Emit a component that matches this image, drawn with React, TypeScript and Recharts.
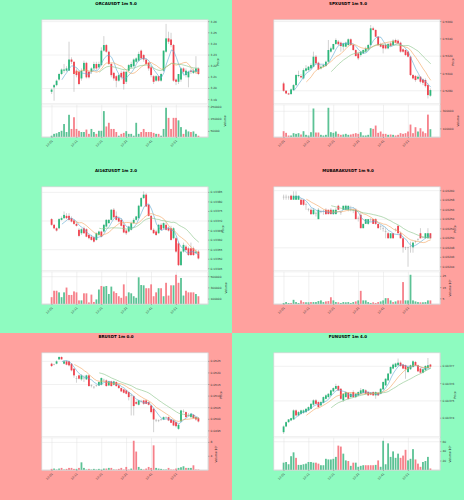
import React from 'react'
import { ComposedChart, Bar, Line, XAxis, YAxis, CartesianGrid } from 'recharts'

const timeLabels = ['12:01', '12:11', '12:21', '12:31', '12:41', '12:51']

// candles are [open, high, low, close]
const orcaCandles = [
  [3.197, 3.2, 3.195, 3.199], [3.201, 3.204, 3.189, 3.203], [3.203, 3.208, 3.202, 3.207], [3.208, 3.214, 3.207, 3.213],
  [3.213, 3.218, 3.212, 3.217], [3.216, 3.222, 3.214, 3.217], [3.216, 3.22, 3.215, 3.218], [3.216, 3.242, 3.216, 3.226],
  [3.226, 3.228, 3.222, 3.224], [3.224, 3.224, 3.197, 3.213], [3.216, 3.218, 3.21, 3.212], [3.215, 3.216, 3.203, 3.204],
  [3.209, 3.218, 3.207, 3.216], [3.216, 3.225, 3.215, 3.223], [3.223, 3.224, 3.209, 3.21], [3.215, 3.216, 3.209, 3.21],
  [3.215, 3.219, 3.213, 3.218], [3.218, 3.224, 3.216, 3.222], [3.222, 3.224, 3.216, 3.218], [3.219, 3.224, 3.218, 3.222],
  [3.221, 3.237, 3.22, 3.234], [3.234, 3.247, 3.233, 3.239], [3.239, 3.24, 3.232, 3.233], [3.233, 3.234, 3.221, 3.222],
  [3.222, 3.223, 3.21, 3.212], [3.214, 3.215, 3.207, 3.209], [3.211, 3.212, 3.201, 3.207], [3.207, 3.213, 3.206, 3.212],
  [3.214, 3.216, 3.208, 3.21], [3.215, 3.216, 3.199, 3.204], [3.206, 3.216, 3.204, 3.215], [3.216, 3.222, 3.215, 3.221],
  [3.219, 3.224, 3.218, 3.222], [3.22, 3.227, 3.219, 3.226], [3.224, 3.228, 3.223, 3.227], [3.225, 3.233, 3.224, 3.231],
  [3.234, 3.235, 3.226, 3.227], [3.23, 3.231, 3.224, 3.226], [3.226, 3.227, 3.221, 3.222], [3.223, 3.224, 3.216, 3.218],
  [3.219, 3.22, 3.21, 3.212], [3.211, 3.212, 3.204, 3.206], [3.207, 3.212, 3.206, 3.211], [3.211, 3.211, 3.206, 3.207],
  [3.207, 3.214, 3.206, 3.213], [3.216, 3.234, 3.215, 3.234], [3.233, 3.258, 3.232, 3.245], [3.245, 3.251, 3.24, 3.242],
  [3.244, 3.25, 3.237, 3.239], [3.239, 3.24, 3.206, 3.207], [3.208, 3.209, 3.203, 3.206], [3.206, 3.213, 3.204, 3.213],
  [3.208, 3.219, 3.206, 3.218], [3.218, 3.219, 3.213, 3.215], [3.212, 3.218, 3.21, 3.216], [3.21, 3.216, 3.201, 3.215],
  [3.216, 3.218, 3.213, 3.215], [3.214, 3.218, 3.213, 3.216], [3.215, 3.229, 3.213, 3.218], [3.218, 3.219, 3.212, 3.213],
]
const orcaVolume = [
  15000, 30000, 35000, 45000, 55000, 110000, 45000, 185000, 70000, 165000, 70000, 55000, 45000, 45000, 65000,
  30000, 70000, 45000, 30000, 55000, 55000, 215000, 90000, 120000, 70000, 70000, 45000, 15000, 30000, 38000,
  52000, 30000, 30000, 15000, 120000, 30000, 45000, 70000, 45000, 45000, 45000, 38000, 30000, 30000, 15000,
  70000, 242000, 160000, 70000, 160000, 160000, 140000, 85000, 30000, 65000, 50000, 45000, 50000, 30000, 15000,
]

const spxCandles = [
  [0.52885, 0.52904, 0.52789, 0.528], [0.528, 0.52808, 0.52762, 0.52769], [0.52769, 0.52777, 0.52754, 0.52758],
  [0.52762, 0.52827, 0.52754, 0.52816], [0.52808, 0.52877, 0.528, 0.52866], [0.52866, 0.52993, 0.52854, 0.52982],
  [0.5297, 0.53032, 0.52955, 0.52982], [0.5297, 0.52993, 0.52943, 0.52955], [0.52943, 0.53059, 0.52931, 0.53039],
  [0.53032, 0.53097, 0.5302, 0.53059], [0.53039, 0.53086, 0.53032, 0.53078], [0.53059, 0.53117, 0.53047, 0.53097],
  [0.53078, 0.53252, 0.5307, 0.53194], [0.53194, 0.53213, 0.53109, 0.53117], [0.53124, 0.53136, 0.53039, 0.53047],
  [0.53059, 0.53097, 0.53047, 0.53078], [0.53078, 0.53109, 0.5307, 0.53097], [0.53086, 0.53148, 0.53078, 0.53136],
  [0.53136, 0.53387, 0.53124, 0.53271], [0.53252, 0.5331, 0.5324, 0.5329], [0.53279, 0.53341, 0.53271, 0.53341],
  [0.53341, 0.53406, 0.53329, 0.53387], [0.53368, 0.53387, 0.53329, 0.53337], [0.53356, 0.53368, 0.53252, 0.53317],
  [0.5331, 0.53356, 0.53263, 0.53348], [0.5331, 0.53368, 0.53302, 0.53356], [0.53329, 0.53406, 0.53317, 0.53395],
  [0.53395, 0.53406, 0.53317, 0.53329], [0.53329, 0.53341, 0.53263, 0.53271], [0.53271, 0.53279, 0.53194, 0.53202],
  [0.53232, 0.53252, 0.53155, 0.53175], [0.53213, 0.53263, 0.53194, 0.53252], [0.53232, 0.53279, 0.53225, 0.53271],
  [0.53252, 0.5331, 0.5324, 0.5329], [0.53279, 0.53341, 0.53271, 0.53329], [0.53329, 0.5356, 0.53317, 0.53522],
  [0.53522, 0.53541, 0.53495, 0.53503], [0.53503, 0.5351, 0.53418, 0.53425], [0.53425, 0.53433, 0.53317, 0.53329],
  [0.53341, 0.53356, 0.53302, 0.5331], [0.53329, 0.53348, 0.53232, 0.5329], [0.53329, 0.53348, 0.53279, 0.5329],
  [0.5329, 0.53356, 0.53279, 0.53341], [0.53348, 0.53368, 0.5331, 0.53317], [0.53329, 0.53395, 0.53317, 0.53379],
  [0.53387, 0.53402, 0.53348, 0.53356], [0.53379, 0.53395, 0.53341, 0.53348], [0.53356, 0.53368, 0.5324, 0.53252],
  [0.53279, 0.5329, 0.5324, 0.53252], [0.53271, 0.53279, 0.53202, 0.53213], [0.53252, 0.53263, 0.53186, 0.53194],
  [0.53194, 0.53202, 0.5297, 0.52982], [0.52982, 0.52993, 0.52931, 0.52943], [0.5297, 0.52982, 0.52904, 0.52924],
  [0.52939, 0.52978, 0.52924, 0.52962], [0.52962, 0.5297, 0.52885, 0.52904], [0.52931, 0.52943, 0.52866, 0.52893],
  [0.52924, 0.52943, 0.52838, 0.52854], [0.52866, 0.52885, 0.52711, 0.5275], [0.52743, 0.52827, 0.52731, 0.52808],
]
const spxVolume = [
  73600, 54800, 24600, 24600, 51000, 43400, 51000, 35900, 73600, 32100, 24600, 62300, 332000, 58500, 58500,
  32100, 24600, 32100, 340000, 62300, 54800, 69900, 43400, 32100, 35900, 43400, 32100, 35900, 43400, 51000,
  43400, 62300, 24600, 24600, 32100, 107600, 100000, 137800, 54800, 69900, 43400, 43400, 32100, 35900, 32100,
  24600, 32100, 51000, 43400, 51000, 69900, 149100, 51000, 119000, 69900, 107600, 69900, 51000, 262300, 96300,
]

const ai16zCandles = [
  [0.13371, 0.133715, 0.133675, 0.13368], [0.13368, 0.133685, 0.133657, 0.133662], [0.133662, 0.133667, 0.133645, 0.13365],
  [0.133662, 0.133715, 0.133657, 0.13371], [0.133706, 0.133724, 0.133703, 0.133715], [0.133715, 0.13375, 0.13371, 0.133732],
  [0.133727, 0.133741, 0.13371, 0.133715], [0.133727, 0.133741, 0.133703, 0.133706], [0.133715, 0.133724, 0.133693, 0.133697],
  [0.133703, 0.13371, 0.13368, 0.133685], [0.133685, 0.133693, 0.133671, 0.133675], [0.133654, 0.133662, 0.133615, 0.133622],
  [0.133636, 0.133662, 0.133627, 0.133657], [0.133662, 0.133671, 0.133633, 0.133636], [0.133657, 0.133662, 0.133615, 0.133618],
  [0.133627, 0.133636, 0.133604, 0.13361], [0.133618, 0.133627, 0.133597, 0.133601], [0.133615, 0.133622, 0.133587, 0.133592],
  [0.133601, 0.13364, 0.133597, 0.133636], [0.133627, 0.13365, 0.133622, 0.133645], [0.133645, 0.13365, 0.133615, 0.133618],
  [0.133645, 0.133685, 0.13364, 0.13368], [0.133671, 0.13371, 0.133667, 0.133706], [0.133689, 0.13371, 0.133685, 0.133706],
  [0.133706, 0.133762, 0.133703, 0.133759], [0.133759, 0.133768, 0.133715, 0.13372], [0.133727, 0.13375, 0.133703, 0.133706],
  [0.133715, 0.133724, 0.133693, 0.133697], [0.133706, 0.133715, 0.133671, 0.133675], [0.13368, 0.133689, 0.133636, 0.13364],
  [0.13365, 0.133657, 0.133627, 0.133636], [0.133645, 0.133675, 0.13364, 0.133671], [0.133654, 0.133697, 0.13365, 0.133689],
  [0.133689, 0.133715, 0.133685, 0.133706], [0.133706, 0.133727, 0.133703, 0.133724], [0.133715, 0.133785, 0.13371, 0.13378],
  [0.133776, 0.133825, 0.133773, 0.13382], [0.13382, 0.133855, 0.133815, 0.133838], [0.133838, 0.133846, 0.133773, 0.133776],
  [0.133785, 0.13379, 0.133724, 0.133727], [0.133727, 0.133732, 0.13365, 0.133654], [0.133654, 0.133662, 0.133633, 0.133636],
  [0.133645, 0.133654, 0.133622, 0.133627], [0.133636, 0.133685, 0.133633, 0.13368], [0.13368, 0.133689, 0.13365, 0.133654],
  [0.133662, 0.133693, 0.133657, 0.133689], [0.13368, 0.133697, 0.13365, 0.133654], [0.133662, 0.133671, 0.133645, 0.13365],
  [0.133662, 0.133675, 0.133597, 0.133601], [0.13361, 0.133667, 0.133604, 0.133662], [0.13361, 0.133618, 0.133534, 0.13354],
  [0.133583, 0.133592, 0.133464, 0.133469], [0.133469, 0.133545, 0.133464, 0.13354], [0.13354, 0.133587, 0.133534, 0.133575],
  [0.133566, 0.133575, 0.13354, 0.133548], [0.133557, 0.133566, 0.133517, 0.133522], [0.133557, 0.133587, 0.133517, 0.133522],
  [0.133557, 0.133566, 0.133517, 0.133522], [0.133534, 0.133552, 0.133526, 0.13354], [0.13354, 0.133548, 0.133499, 0.133504],
]
const ai16zVolume = [
  134000, 249000, 249000, 220000, 134000, 220000, 306000, 174000, 174000, 237000, 220000, 77000, 77000, 203000, 203000,
  40000, 180000, 48600, 94000, 271000, 334000, 323000, 334000, 191000, 323000, 237000, 209000, 151000, 123000, 363000,
  151000, 220000, 203000, 151000, 123000, 489000, 351000, 346000, 294000, 294000, 363000, 151000, 220000, 294000, 294000,
  151000, 391000, 163000, 346000, 346000, 534000, 391000, 477000, 163000, 249000, 220000, 220000, 220000, 191000, 151000,
]

const mubarakCandles = [
  [0.0325866, 0.0325916, 0.032581, 0.0325866], [0.0325866, 0.0325916, 0.032581, 0.0325866], [0.0325866, 0.0325894, 0.032581, 0.0325866],
  [0.0325894, 0.0325916, 0.032581, 0.032581], [0.032581, 0.0325986, 0.032581, 0.0325894], [0.032581, 0.0325986, 0.032581, 0.0325894],
  [0.032581, 0.0325894, 0.032581, 0.0325894], [0.032581, 0.0325845, 0.0325704, 0.0325704], [0.032581, 0.032581, 0.0325683, 0.0325704],
  [0.0325704, 0.0325754, 0.0325599, 0.0325704], [0.0325599, 0.0325634, 0.0325564, 0.0325599], [0.0325599, 0.0325634, 0.0325493, 0.0325507],
  [0.0325507, 0.0325634, 0.0325493, 0.0325599], [0.0325528, 0.0325564, 0.0325458, 0.0325528], [0.0325402, 0.0325634, 0.0325402, 0.0325599],
  [0.0325564, 0.0325599, 0.0325528, 0.0325564], [0.0325564, 0.0325599, 0.0325493, 0.0325564], [0.0325599, 0.0325634, 0.0325493, 0.0325507],
  [0.0325599, 0.0325599, 0.0325507, 0.0325507], [0.0325599, 0.0325634, 0.0325507, 0.0325507], [0.0325507, 0.0325599, 0.0325493, 0.0325599],
  [0.0325507, 0.0325634, 0.0325507, 0.0325599], [0.0325683, 0.0325704, 0.0325599, 0.0325599], [0.0325542, 0.0325564, 0.0325493, 0.0325542],
  [0.0325599, 0.0325683, 0.0325599, 0.0325683], [0.0325599, 0.0325704, 0.0325599, 0.0325683], [0.0325599, 0.0325683, 0.0325564, 0.0325683],
  [0.0325599, 0.0325683, 0.0325564, 0.0325599], [0.0325585, 0.0325634, 0.0325528, 0.0325585], [0.0325599, 0.0325634, 0.0325402, 0.0325402],
  [0.0325423, 0.0325458, 0.0325352, 0.0325423], [0.0325493, 0.0325528, 0.0325212, 0.0325212], [0.0325212, 0.0325303, 0.0325212, 0.0325303],
  [0.0325303, 0.0325402, 0.0325303, 0.0325402], [0.0325303, 0.0325402, 0.0325282, 0.0325402], [0.0325387, 0.0325423, 0.0325352, 0.0325387],
  [0.0325402, 0.0325402, 0.0325303, 0.0325303], [0.0325402, 0.0325423, 0.0325282, 0.0325303], [0.0325303, 0.0325303, 0.0325212, 0.0325212],
  [0.0325247, 0.0325282, 0.0325176, 0.0325247], [0.0325212, 0.0325261, 0.0325141, 0.0325212], [0.0325141, 0.0325212, 0.0325, 0.0325141],
  [0.0325106, 0.0325141, 0.0325, 0.0325], [0.0325, 0.0325106, 0.0325, 0.0325106], [0.0325106, 0.0325106, 0.0325, 0.0325],
  [0.0325176, 0.0325212, 0.0325141, 0.0325176], [0.0325261, 0.0325282, 0.0325106, 0.0325106], [0.0325106, 0.0325141, 0.0325, 0.0325],
  [0.0325, 0.0325036, 0.0324698, 0.032481], [0.032481, 0.0324824, 0.0324754, 0.032481], [0.032481, 0.0324824, 0.0324402, 0.032481],
  [0.0324824, 0.032493, 0.0324698, 0.0324824], [0.032481, 0.032493, 0.0324698, 0.0324909], [0.032493, 0.0324951, 0.0324895, 0.032493],
  [0.0324979, 0.0325, 0.0324951, 0.0324979], [0.0325106, 0.0325212, 0.0325, 0.0325], [0.0325021, 0.0325036, 0.0325, 0.0325021],
  [0.0325, 0.0325106, 0.0325, 0.0325106], [0.0325, 0.0325212, 0.0325, 0.0325106], [0.0325106, 0.0325106, 0.0325, 0.0325],
]
const mubarakVolume = [
  1.3e6, 2.1e6, 1.3e6, 1.3e6, 4.1e6, 2.1e6, 1.3e6, 3.6e6, 2.1e6, 1.9e6, 1.9e6, 2.1e6, 2.1e6, 2.1e6, 3.0e6,
  3.6e6, 2.1e6, 2.7e6, 3.0e6, 6.4e6, 3.6e6, 2.1e6, 1.9e6, 1.3e6, 2.1e6, 1.9e6, 2.1e6, 1.3e6, 2.1e6, 2.7e6,
  3.6e6, 12.1e6, 3.6e6, 3.6e6, 2.1e6, 1.3e6, 1.9e6, 1.3e6, 2.1e6, 2.7e6, 3.6e6, 5.6e6, 5.6e6, 3.6e6, 2.1e6,
  2.7e6, 3.6e6, 3.6e6, 19.9e6, 3.6e6, 3.6e6, 26.4e6, 3.6e6, 2.7e6, 2.1e6, 1.9e6, 1.9e6, 2.1e6, 3.6e6, 3.6e6,
]

const brCandles = [
  [0.052399, 0.052442, 0.052255, 0.052298], [0.05237, 0.0524, 0.05233, 0.05237], [0.052399, 0.052543, 0.05237, 0.0525],
  [0.052586, 0.052716, 0.052558, 0.052687], [0.052687, 0.052716, 0.052572, 0.052586], [0.052399, 0.052543, 0.05237, 0.0525],
  [0.0525, 0.052543, 0.05233, 0.052356], [0.0525, 0.052529, 0.052284, 0.052327], [0.052399, 0.052428, 0.052067, 0.052111],
  [0.052183, 0.052212, 0.051794, 0.051895], [0.051751, 0.051866, 0.051578, 0.051751], [0.051895, 0.051924, 0.051722, 0.051751],
  [0.051722, 0.051953, 0.051664, 0.051895], [0.05178, 0.051895, 0.051607, 0.05178], [0.051722, 0.051924, 0.051693, 0.051895],
  [0.051895, 0.051924, 0.051405, 0.051434], [0.051462, 0.051506, 0.051376, 0.051462], [0.05139, 0.051434, 0.051318, 0.05139],
  [0.051462, 0.051491, 0.051405, 0.051462], [0.051462, 0.051635, 0.051434, 0.051607], [0.051491, 0.051808, 0.051462, 0.05178],
  [0.051693, 0.051751, 0.051607, 0.051693], [0.051679, 0.051722, 0.051405, 0.051434], [0.051462, 0.051664, 0.051434, 0.051635],
  [0.051635, 0.051664, 0.051405, 0.051434], [0.051491, 0.051664, 0.051462, 0.051635], [0.051607, 0.051635, 0.051405, 0.051434],
  [0.051462, 0.051491, 0.051318, 0.051347], [0.051347, 0.051376, 0.051174, 0.051203], [0.051289, 0.051318, 0.051116, 0.051145],
  [0.051246, 0.051275, 0.051073, 0.051102], [0.051174, 0.051203, 0.050814, 0.050958], [0.05103, 0.051102, 0.050166, 0.05103],
  [0.051001, 0.05103, 0.050166, 0.05057], [0.050742, 0.050814, 0.050627, 0.05067], [0.050627, 0.050843, 0.050598, 0.050814],
  [0.050771, 0.050843, 0.050713, 0.050771], [0.050814, 0.050843, 0.050627, 0.05067], [0.050814, 0.050843, 0.050655, 0.05067],
  [0.050742, 0.050771, 0.050598, 0.050627], [0.050598, 0.050627, 0.050252, 0.05031], [0.050454, 0.050483, 0.049445, 0.049993],
  [0.049964, 0.050022, 0.049878, 0.049964], [0.04995, 0.049993, 0.049878, 0.04995], [0.049993, 0.050022, 0.049935, 0.049993],
  [0.049993, 0.050123, 0.049964, 0.050094], [0.05008, 0.050123, 0.050022, 0.05008], [0.050094, 0.050123, 0.049921, 0.04995],
  [0.049993, 0.050022, 0.049835, 0.049849], [0.04995, 0.049979, 0.049704, 0.049733], [0.049878, 0.049907, 0.049647, 0.049704],
  [0.049589, 0.04979, 0.049546, 0.049762], [0.049906, 0.050411, 0.049878, 0.050382], [0.050339, 0.050425, 0.050281, 0.050339],
  [0.05031, 0.050339, 0.050065, 0.050094], [0.05018, 0.050267, 0.050123, 0.05018], [0.050094, 0.050267, 0.050065, 0.050238],
  [0.050195, 0.050224, 0.050022, 0.05005], [0.050094, 0.050123, 0.049935, 0.049993], [0.05005, 0.05008, 0.049864, 0.049906],
]
const brVolume = [
  3.8e6, 4.7e6, 1.9e6, 4.7e6, 6.6e6, 1.9e6, 3.8e6, 6.6e6, 6.6e6, 3.8e6, 3.8e6, 6.6e6, 22.6e6, 6.6e6, 1.9e6,
  3.8e6, 1.9e6, 3.8e6, 1.9e6, 3.8e6, 1.9e6, 4.7e6, 4.7e6, 6.6e6, 6.6e6, 1.9e6, 1.9e6, 3.8e6, 6.6e6, 1.9e6,
  9.4e6, 1.9e6, 4.7e6, 84.7e6, 53.6e6, 9.4e6, 3.8e6, 1.9e6, 4.7e6, 9.4e6, 6.6e6, 71.5e6, 6.6e6, 4.7e6, 3.8e6,
  1.9e6, 1.9e6, 6.6e6, 1.9e6, 1.9e6, 4.7e6, 6.6e6, 8.5e6, 11.3e6, 6.6e6, 6.6e6, 6.6e6, 14.1e6, 1.9e6, 1.9e6,
]

const funCandles = [
  [0.0037319, 0.0037358, 0.0037309, 0.0037352], [0.0037352, 0.0037381, 0.0037348, 0.0037377], [0.0037377, 0.0037394, 0.0037373, 0.0037393],
  [0.0037387, 0.0037402, 0.0037383, 0.00374], [0.0037393, 0.0037451, 0.0037389, 0.0037445], [0.0037445, 0.0037451, 0.003741, 0.0037416],
  [0.0037416, 0.0037441, 0.003741, 0.0037435], [0.0037425, 0.0037449, 0.003742, 0.0037445], [0.0037431, 0.0037451, 0.0037425, 0.0037445],
  [0.0037435, 0.0037458, 0.0037431, 0.0037454], [0.0037445, 0.0037468, 0.0037441, 0.0037464], [0.0037454, 0.0037487, 0.0037451, 0.0037483],
  [0.0037478, 0.0037509, 0.0037472, 0.0037503], [0.0037503, 0.0037511, 0.003748, 0.0037483], [0.0037493, 0.0037497, 0.003746, 0.0037464],
  [0.0037474, 0.0037499, 0.0037468, 0.0037493], [0.0037489, 0.0037526, 0.0037485, 0.0037522], [0.0037512, 0.0037538, 0.0037509, 0.0037532],
  [0.0037522, 0.0037545, 0.0037518, 0.0037541], [0.0037532, 0.0037565, 0.0037528, 0.0037561], [0.0037555, 0.0037578, 0.0037551, 0.0037574],
  [0.003757, 0.0037599, 0.0037567, 0.0037586], [0.0037586, 0.0037592, 0.0037557, 0.0037561], [0.003757, 0.0037574, 0.0037507, 0.0037512],
  [0.0037503, 0.0037545, 0.0037495, 0.0037541], [0.0037522, 0.0037555, 0.0037518, 0.0037551], [0.0037547, 0.0037551, 0.0037509, 0.0037512],
  [0.0037522, 0.0037549, 0.0037518, 0.0037541], [0.0037551, 0.0037561, 0.0037518, 0.0037522], [0.0037522, 0.0037545, 0.0037516, 0.0037541],
  [0.0037532, 0.0037555, 0.0037528, 0.0037551], [0.0037541, 0.0037574, 0.0037538, 0.0037561], [0.0037547, 0.0037569, 0.0037543, 0.0037567],
  [0.0037561, 0.0037567, 0.0037538, 0.0037541], [0.0037551, 0.0037555, 0.0037528, 0.0037532], [0.0037547, 0.0037551, 0.0037532, 0.0037536],
  [0.0037551, 0.0037555, 0.0037528, 0.0037532], [0.0037532, 0.0037555, 0.0037512, 0.0037551], [0.0037547, 0.0037551, 0.0037528, 0.0037532],
  [0.0037541, 0.0037574, 0.0037538, 0.003757], [0.0037567, 0.0037613, 0.0037563, 0.0037609], [0.003759, 0.0037632, 0.0037586, 0.0037628],
  [0.0037619, 0.0037661, 0.0037615, 0.0037658], [0.0037658, 0.00377, 0.0037654, 0.0037696], [0.0037687, 0.0037716, 0.0037683, 0.003771],
  [0.0037696, 0.0037721, 0.0037692, 0.0037716], [0.0037706, 0.0037745, 0.0037702, 0.0037721], [0.0037721, 0.0037727, 0.0037698, 0.0037702],
  [0.003771, 0.0037714, 0.0037683, 0.0037687], [0.0037706, 0.003771, 0.0037628, 0.0037683], [0.0037667, 0.0037706, 0.0037661, 0.0037696],
  [0.0037683, 0.003771, 0.0037679, 0.0037706], [0.0037696, 0.0037735, 0.0037692, 0.0037729], [0.0037725, 0.0037731, 0.0037702, 0.0037706],
  [0.0037706, 0.003771, 0.0037667, 0.0037671], [0.0037687, 0.003769, 0.0037659, 0.0037663], [0.0037663, 0.0037687, 0.0037659, 0.0037683],
  [0.0037677, 0.0037706, 0.0037673, 0.0037702], [0.003769, 0.0037748, 0.0037687, 0.0037706], [0.003771, 0.0037714, 0.0037694, 0.0037698],
]
const funVolume = [
  16.6e6, 18.0e6, 13.3e6, 30.0e6, 38.0e6, 26.6e6, 12.0e6, 12.0e6, 13.3e6, 14.6e6, 18.0e6, 18.0e6, 16.6e6, 16.6e6, 14.6e6,
  11.3e6, 11.3e6, 24.6e6, 23.3e6, 23.3e6, 24.6e6, 28.6e6, 52.0e6, 50.0e6, 35.3e6, 21.3e6, 20.0e6, 10.0e6, 16.6e6, 16.6e6,
  8.0e6, 10.0e6, 11.3e6, 11.3e6, 11.3e6, 11.3e6, 11.3e6, 12.0e6, 21.3e6, 8.0e6, 62.0e6, 13.3e6, 56.7e6, 28.6e6, 40.0e6,
  26.6e6, 35.3e6, 26.6e6, 31.3e6, 43.3e6, 21.3e6, 24.6e6, 44.7e6, 23.3e6, 14.6e6, 8.0e6, 18.0e6, 20.0e6, 28.6e6, 4.6e6,
]

const UP = '#2db77b'
const DOWN = '#f0434f'
const VOL_UP = '#5cc295'
const VOL_DOWN = '#f6808a'
const WICK = '#9a9a9a'
const MA_COLORS = ['#5ea9d4', '#f3a35c', '#86c386']
const GREEN_BG = '#8efbc0'
const RED_BG = '#ffa19e'
const FONT = 'DejaVu Sans, sans-serif'

type PanelSpec = {
  title: string
  bg: string
  candles: number[][]
  volume: number[]
  priceDomain: [number, number]
  priceTicks: number[]
  priceDigits: number
  volTicks: number[]
  volExp: number
  priceLabelX: number
  volLabelX: number
}

const panels: PanelSpec[] = [
  {
    title: 'ORCAUSDT 1m 5.0', bg: GREEN_BG, candles: orcaCandles, volume: orcaVolume,
    priceDomain: [3.1865, 3.2615], priceTicks: [3.19, 3.2, 3.21, 3.22, 3.23, 3.24, 3.25, 3.26], priceDigits: 2,
    volTicks: [50000, 100000, 150000, 200000, 250000], volExp: 0, priceLabelX: 219, volLabelX: 226,
  },
  {
    title: 'SPXUSDT 1m 5.0', bg: RED_BG, candles: spxCandles, volume: spxVolume,
    priceDomain: [0.52653, 0.53618], priceTicks: [0.528, 0.53, 0.532, 0.534, 0.536], priceDigits: 4,
    volTicks: [100000, 200000, 300000], volExp: 0, priceLabelX: 222, volLabelX: 227,
  },
  {
    title: 'AI16ZUSDT 1m 2.0', bg: GREEN_BG, candles: ai16zCandles, volume: ai16zVolume,
    priceDomain: [0.133441, 0.133878],
    priceTicks: [0.13345, 0.1335, 0.13355, 0.1336, 0.13365, 0.1337, 0.13375, 0.1338, 0.13385], priceDigits: 5,
    volTicks: [100000, 200000, 300000, 400000, 500000], volExp: 0, priceLabelX: 224, volLabelX: 227,
  },
  {
    title: 'MUBARAKUSDT 1m 9.0', bg: RED_BG, candles: mubarakCandles, volume: mubarakVolume,
    priceDomain: [0.0324324, 0.0326077],
    priceTicks: [0.03244, 0.03246, 0.03248, 0.0325, 0.03252, 0.03254, 0.03256, 0.03258, 0.0326], priceDigits: 5,
    volTicks: [5e6, 10e6, 15e6, 20e6, 25e6], volExp: 6, priceLabelX: 224, volLabelX: 219,
  },
  {
    title: 'BRUSDT 1m 0.0', bg: RED_BG, candles: brCandles, volume: brVolume,
    priceDomain: [0.049258, 0.05286], priceTicks: [0.0495, 0.05, 0.0505, 0.051, 0.0515, 0.052, 0.0525], priceDigits: 4,
    volTicks: [2e7, 4e7, 6e7, 8e7], volExp: 7, priceLabelX: 222, volLabelX: 217,
  },
  {
    title: 'FUNUSDT 1m 4.0', bg: GREEN_BG, candles: funCandles, volume: funVolume,
    priceDomain: [0.0037294, 0.0037777], priceTicks: [0.00373, 0.00374, 0.00375, 0.00376, 0.00377], priceDigits: 5,
    volTicks: [2e7, 4e7, 6e7], volExp: 6, priceLabelX: 224, volLabelX: 219,
  },
]

const rowHeights = [167, 166, 167]

function movingAvg(closes: number[], n: number) {
  return closes.map((_, i) => {
    if (i < n - 1) return null
    let s = 0
    for (let k = i - n + 1; k <= i; k++) s += closes[k]
    return s / n
  })
}

function Candle(props: any) {
  const { x, y, width, height, payload } = props
  if (!payload || y == null) return null
  const { open, close, high, low } = payload
  const k = high > low ? height / (high - low) : 0
  const top = y + (high - Math.max(open, close)) * k
  const bot = y + (high - Math.min(open, close)) * k
  const cx = x + width / 2
  const flat = bot - top < 0.35
  const color = close > open ? UP : close < open ? DOWN : WICK
  return (
    <g>
      <line x1={cx} x2={cx} y1={y} y2={y + height} stroke={WICK} strokeWidth={0.45} />
      <rect x={x} y={flat ? top - 0.2 : top} width={width} height={flat ? 0.4 : bot - top} fill={color} />
    </g>
  )
}

function VolBar(props: any) {
  const { x, y, width, height, payload } = props
  if (!payload || !(height > 0)) return null
  return <rect x={x} y={y} width={width} height={height} fill={payload.close >= payload.open ? VOL_UP : VOL_DOWN} />
}

function TimeTick(props: any) {
  const { x, y, payload } = props
  const label = timeLabels[Math.round(payload.value / 10)]
  if (!label) return null
  return (
    <text x={x} y={y} dy={1.5} transform={`rotate(-45 ${x} ${y})`} textAnchor="end"
      fontSize={2.9} fill="#333" fontFamily={FONT}>
      {label}
    </text>
  )
}

const tickStyle = { fontSize: 2.9, fill: '#333', fontFamily: FONT }
const xPad = { left: 8.7, right: 8 }

function Panel({ spec, height }: { spec: PanelSpec; height: number }) {
  const closes = spec.candles.map((c) => c[3])
  const ma5 = movingAvg(closes, 5)
  const ma10 = movingAvg(closes, 10)
  const ma20 = movingAvg(closes, 20)
  const rows = spec.candles.map(([o, h, l, c], i) => ({
    i, open: o, high: h, low: l, close: c, vol: spec.volume[i], ma5: ma5[i], ma10: ma10[i], ma20: ma20[i],
  }))
  const vmin = Math.min(...spec.volume)
  const vmax = Math.max(...spec.volume)
  const volScale = Math.pow(10, spec.volExp)

  return (
    <div style={{ position: 'relative', width: 232, height, background: spec.bg, overflow: 'hidden' }}>
      {/* white axes area behind both sub-plots */}
      <div style={{ position: 'absolute', left: 42, top: 20, width: 166, height: 117, background: '#fff',
        boxShadow: '0 0 0 0.5px #d6d6d6' }} />
      <div style={{ position: 'absolute', left: 0, top: 0 }}>
        <ComposedChart width={232} height={104} data={rows} margin={{ top: 20, right: 4, bottom: 0.5, left: 42 }}>
          <CartesianGrid stroke="#e3e3e3" strokeWidth={0.5} fill="#ffffff" />
          <XAxis dataKey="i" interval={9} tick={false} tickLine={false} axisLine={false} height={0} padding={xPad} />
          <YAxis orientation="right" domain={spec.priceDomain} allowDataOverflow ticks={spec.priceTicks}
            tickFormatter={(v: number) => v.toFixed(spec.priceDigits)} width={20} tick={tickStyle}
            tickSize={1.5} tickMargin={1} tickLine={{ stroke: '#666', strokeWidth: 0.4 }}
            axisLine={{ stroke: '#d0d0d0', strokeWidth: 0.5 }} />
          <Bar dataKey={(d: any) => [d.low, d.high]} barSize={1.8} shape={Candle} isAnimationActive={false} />
          <Line dataKey="ma5" stroke={MA_COLORS[0]} strokeWidth={0.6} dot={false} isAnimationActive={false} />
          <Line dataKey="ma10" stroke={MA_COLORS[1]} strokeWidth={0.6} dot={false} isAnimationActive={false} />
          <Line dataKey="ma20" stroke={MA_COLORS[2]} strokeWidth={0.6} dot={false} isAnimationActive={false} />
        </ComposedChart>
      </div>
      <div style={{ position: 'absolute', left: 0, top: 104 }}>
        <ComposedChart width={232} height={62} data={rows} margin={{ top: 0.8, right: 4, bottom: 17, left: 42 }}>
          <CartesianGrid stroke="#e3e3e3" strokeWidth={0.5} fill="#ffffff" />
          <XAxis dataKey="i" interval={9} height={12} padding={xPad} tick={<TimeTick />} tickSize={1}
            tickLine={{ stroke: '#666', strokeWidth: 0.4 }} axisLine={{ stroke: '#d0d0d0', strokeWidth: 0.5 }} />
          <YAxis orientation="right" domain={[0.3 * vmin, 1.1 * vmax]} allowDataOverflow ticks={spec.volTicks}
            tickFormatter={(v: number) => String(Math.round(v / volScale))} width={20} tick={tickStyle}
            tickSize={1.5} tickMargin={1} tickLine={{ stroke: '#666', strokeWidth: 0.4 }}
            axisLine={{ stroke: '#d0d0d0', strokeWidth: 0.5 }} />
          <Bar dataKey="vol" barSize={1.8} shape={VolBar} isAnimationActive={false} />
        </ComposedChart>
      </div>
      <svg width={232} height={height} style={{ position: 'absolute', left: 0, top: 0, pointerEvents: 'none' }}>
        <text x={116} y={4.6} textAnchor="middle" fontSize={4} fontWeight="bold" fontFamily={FONT} fill="#000">
          {spec.title}
        </text>
        <text x={spec.priceLabelX} y={62} transform={`rotate(-90 ${spec.priceLabelX} 62)`} textAnchor="middle"
          fontSize={3} fontFamily={FONT} fill="#222">
          Price
        </text>
        <text x={spec.volLabelX} y={121} transform={`rotate(-90 ${spec.volLabelX} 121)`} textAnchor="middle"
          fontSize={3} fontFamily={FONT} fill="#222">
          {spec.volExp ? `Volume  10${spec.volExp === 6 ? '⁶' : '⁷'}` : 'Volume'}
        </text>
      </svg>
    </div>
  )
}

export default function App() {
  return (
    <div style={{ position: 'absolute', left: 0, top: 0, width: 464, height: 500, display: 'flex', flexWrap: 'wrap' }}>
      {panels.map((p, idx) => (
        <Panel key={p.title} spec={p} height={rowHeights[Math.floor(idx / 2)]} />
      ))}
    </div>
  )
}
